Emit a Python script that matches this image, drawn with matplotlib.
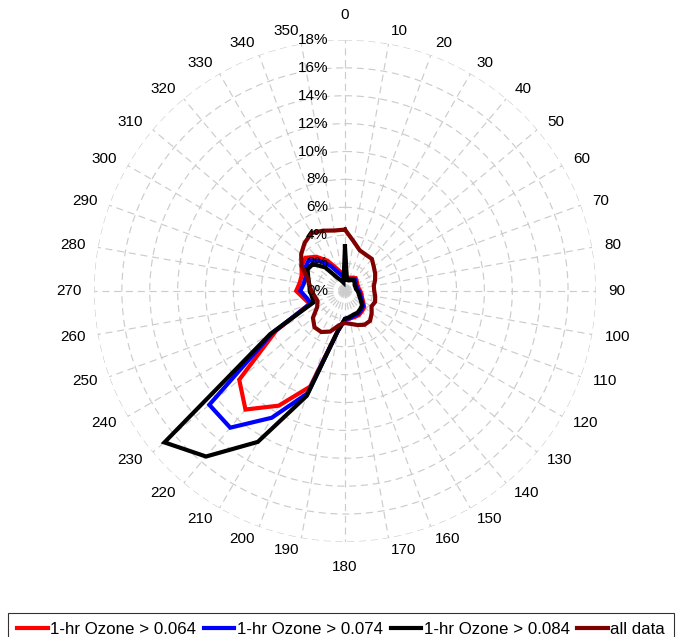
import numpy as np
import matplotlib
matplotlib.use("Agg")
import matplotlib.pyplot as plt
from matplotlib.transforms import offset_copy

plt.rcParams["font.family"] = ["Liberation Sans", "DejaVu Sans"]

# wind direction bins (degrees) and frequency (%)
directions = np.arange(0, 360, 10)
ozone_064 = [1.2, 1.0, 1.0, 1.1, 1.2, 1.1, 1.0, 1.0, 1.0, 1.1, 1.2, 1.3,
             1.5, 1.8, 1.9, 2.0, 2.0, 2.0, 2.1, 2.9, 7.3, 9.5, 11.1, 9.9,
             5.7, 2.7, 3.0, 3.5, 3.3, 3.3, 3.6, 3.7, 3.2, 2.5, 1.7, 1.3]
ozone_074 = [1.0, 0.9, 0.9, 1.0, 1.1, 1.0, 0.9, 0.9, 0.9, 1.0, 1.1, 1.2,
             1.4, 1.7, 1.8, 1.9, 1.9, 2.0, 2.0, 2.9, 7.8, 10.5, 12.8, 12.7,
             6.0, 2.6, 2.8, 3.2, 3.0, 3.0, 3.3, 3.4, 2.8, 2.1, 1.4, 1.1]
ozone_084 = [3.2, 0.8, 0.8, 0.9, 1.0, 0.9, 0.8, 0.8, 0.8, 0.9, 1.0, 1.1,
             1.3, 1.6, 1.7, 1.8, 1.8, 1.9, 2.0, 2.9, 8.0, 12.5, 15.5, 16.9,
             6.2, 2.4, 2.4, 2.5, 2.6, 2.8, 3.1, 3.0, 2.2, 1.1, 0.8, 0.6]
all_data = [4.4, 3.6, 3.1, 3.0, 3.0, 2.7, 2.5, 2.3, 2.1, 2.1, 2.2, 2.3,
            2.2, 2.5, 2.8, 2.8, 2.6, 2.4, 2.3, 2.5, 3.1, 3.4, 3.4, 3.0,
            2.3, 2.1, 2.2, 2.4, 2.6, 2.9, 3.6, 4.1, 4.5, 4.8, 4.6, 4.4]

series = [
    ("1-hr Ozone > 0.064", ozone_064, "#ff0000"),
    ("1-hr Ozone > 0.074", ozone_074, "#0000ff"),
    ("1-hr Ozone > 0.084", ozone_084, "#000000"),
    ("all data", all_data, "#800000"),
]
r_ticks = np.arange(0, 20, 2)
r_max = 18

fig = plt.figure(figsize=(6.9, 6.37), dpi=100)
ax = fig.add_axes([0.1362, 0.1492, 0.7275, 0.7881], projection="polar")
ax.set_theta_zero_location("N")
ax.set_theta_direction(-1)

theta = np.deg2rad(np.append(directions, directions[0]))
for label, vals, color in series:
    r = np.append(vals, vals[0])
    ax.plot(theta, r, color=color, lw=3, label=label, solid_joinstyle="miter")

ax.set_ylim(0, r_max)
ax.set_yticks(r_ticks)
ax.set_yticklabels([])
ax.set_xticks(np.deg2rad(directions))
ax.set_xticklabels([])
ax.grid(True, color="#cccccc", linestyle=(0, (6, 4)), lw=0.85)
ax.spines["polar"].set_visible(False)

# direction labels, anchored just outside the outer ring
for d in directions:
    rad = r_max * 1.05
    if d == 0:
        ha, va, rad = "center", "bottom", r_max * 1.07
    elif d == 180:
        ha, va, rad = "center", "top", r_max * 1.07
    elif d < 180:
        ha, va = "left", "center"
    else:
        ha, va = "right", "center"
    ax.text(np.deg2rad(d), rad, str(d), ha=ha, va=va,
            fontsize=11, clip_on=False)

trans = offset_copy(ax.transData, fig=fig, x=-17, y=0, units="dots")
for rt in r_ticks:
    ax.text(0, rt, f"{rt}%", transform=trans, ha="right", va="center",
            fontsize=11)

leg = fig.legend(loc="upper left", bbox_to_anchor=(8 / 690, 1 - 613 / 637),
                 ncol=4, fontsize=12.2, frameon=True, fancybox=False,
                 handlelength=1.8, handletextpad=0.15, columnspacing=0.45,
                 borderpad=0.55, borderaxespad=0)
leg.get_frame().set_edgecolor("black")
leg.get_frame().set_linewidth(0.8)

fig.savefig("out.png", dpi=100)
